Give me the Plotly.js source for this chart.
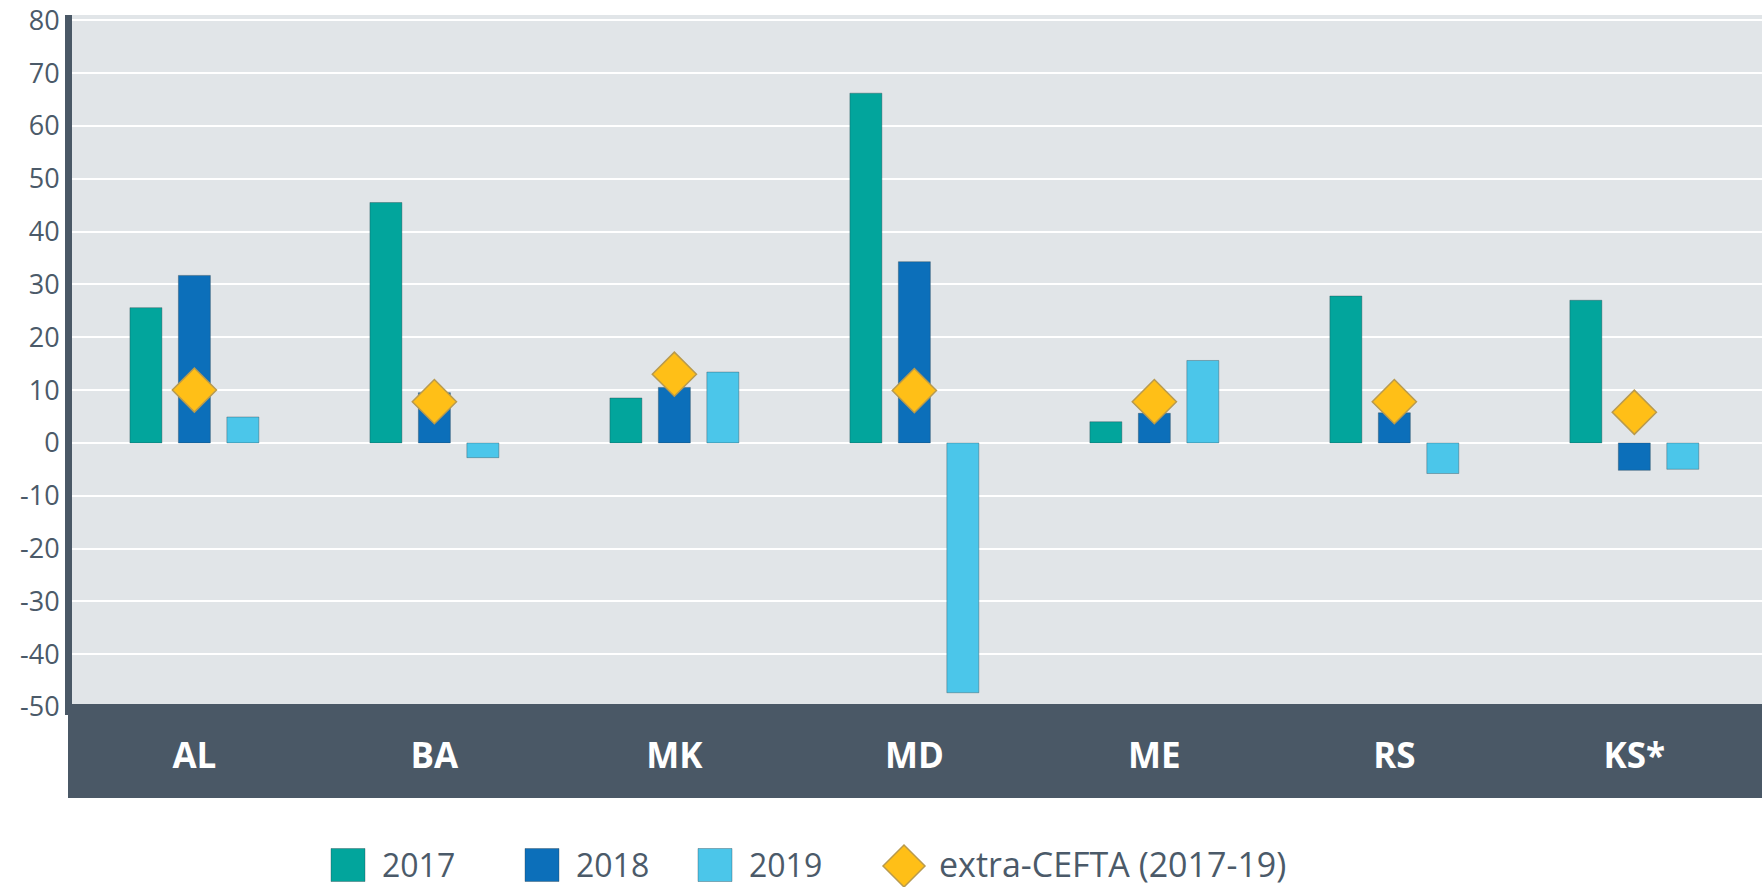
<!DOCTYPE html>
<html>
<head>
<meta charset="utf-8">
<script src="https://cdn.plot.ly/plotly-3.0.1.min.js"></script>
<style>
  html, body { margin: 0; padding: 0; background: #ffffff; }
  #chart { width: 1762px; height: 887px; }
</style>
</head>
<body>
<div id="chart"></div>
<script>
// ---- data ----
const categories = ["AL", "BA", "MK", "MD", "ME", "RS", "KS*"];
const seriesNames = ["2017", "2018", "2019"];
const values2017 = [25.6, 45.5, 8.5, 66.2, 4.0, 27.8, 27.0];
const values2018 = [31.7, 9.5, 10.5, 34.3, 5.6, 5.7, -5.2];
const values2019 = [4.9, -2.8, 13.4, -47.3, 15.6, -5.8, -5.0];
const extraName = "extra-CEFTA (2017-19)";
const extraCefta = [10.0, 7.8, 13.0, 9.9, 7.8, 7.8, 5.8];
const yTickVals = [-50, -40, -30, -20, -10, 0, 10, 20, 30, 40, 50, 60, 70, 80];

// ---- style ----
const colors = ["#02a59c", "#0c6fba", "#4bc6ea"];
const diamondColor = "#ffbf17";
const bandColor = "#4a5866";
const textColor = "#4b5a69";
const W = 1762, H = 887;
const M = { l: 72, r: 0, t: 15, b: 180 };
const plotW = W - M.l - M.r, plotH = H - M.t - M.b;
const px = x => (x - M.l) / plotW;
const py = y => (H - M.b - y) / plotH;

const barData = [values2017, values2018, values2019];
const traces = barData.map((vals, i) => ({
  type: "bar",
  name: seriesNames[i],
  x: categories,
  y: vals,
  marker: { color: colors[i], line: { color: "rgba(40,60,70,0.35)", width: 1 } },
  hoverinfo: "x+y+name"
}));
traces.push({
  type: "scatter",
  mode: "markers",
  name: extraName,
  x: categories,
  y: extraCefta,
  marker: { symbol: "diamond", size: 34, color: diamondColor, line: { color: "#b89a4e", width: 1.5 } }
});

// custom legend (glyphs + labels)
const shapes = [
  // dark category band
  { type: "rect", xref: "paper", yref: "paper", layer: "below",
    x0: px(68), x1: px(W), y0: py(704), y1: py(798),
    fillcolor: bandColor, line: { width: 0 } }
];
const annotations = [];
const legendSquares = [
  { x: 331, label: seriesNames[0], tx: 381 },
  { x: 525, label: seriesNames[1], tx: 575 },
  { x: 698, label: seriesNames[2], tx: 748 }
];
const legY = 864;
const legFont = { family: "Open Sans", size: 32, color: textColor };
legendSquares.forEach((s, i) => {
  shapes.push({ type: "rect", xref: "paper", yref: "paper", layer: "above",
    x0: px(s.x), x1: px(s.x + 34), y0: py(legY - 15.5), y1: py(legY + 17.5),
    fillcolor: colors[i], line: { color: "rgba(40,60,70,0.35)", width: 1 } });
  annotations.push({ xref: "paper", yref: "paper", x: px(s.tx), y: py(legY),
    xanchor: "left", yanchor: "middle", showarrow: false, text: s.label,
    borderpad: 0, font: legFont });
});
const dcx = 904, dcy = 866, dr = 21;
shapes.push({ type: "path", xref: "paper", yref: "paper", layer: "above",
  path: `M ${px(dcx - dr)},${py(dcy)} L ${px(dcx)},${py(dcy - dr)} L ${px(dcx + dr)},${py(dcy)} L ${px(dcx)},${py(dcy + dr)} Z`,
  fillcolor: diamondColor, line: { color: "#b89a4e", width: 1.5 } });
annotations.push({ xref: "paper", yref: "paper", x: px(938), y: py(legY),
  xanchor: "left", yanchor: "middle", showarrow: false, text: extraName,
  borderpad: 0, font: { family: "Open Sans", size: 34, color: textColor } });

const layout = {
  width: W, height: H,
  margin: M,
  paper_bgcolor: "#ffffff",
  plot_bgcolor: "#e1e5e8",
  showlegend: false,
  barmode: "group",
  bargap: 0.394,
  bargroupgap: 0.34,
  font: { family: "Open Sans", color: textColor },
  xaxis: {
    type: "category",
    range: [-0.51, 6.532],
    showgrid: false,
    zeroline: false,
    showline: true,
    linecolor: bandColor,
    linewidth: 8,
    ticks: "",
    ticklabelstandoff: 11,
    tickfont: { family: "Open Sans", size: 35, color: "#ffffff", weight: "bold" },
    fixedrange: true
  },
  yaxis: {
    range: [-50, 81],
    tickvals: yTickVals,
    ticktext: yTickVals.map(String),
    ticklabeloverflow: "allow",
    showgrid: true,
    gridcolor: "#ffffff",
    gridwidth: 2,
    zeroline: true,
    zerolinecolor: "#ffffff",
    zerolinewidth: 2,
    showline: true,
    linecolor: bandColor,
    linewidth: 7,
    ticks: "",
    ticklabelstandoff: 0,
    tickfont: { family: "Open Sans", size: 27, color: textColor },
    fixedrange: true
  },
  shapes: shapes,
  annotations: annotations
};

Plotly.newPlot("chart", traces, layout, { displayModeBar: false, staticPlot: true });
</script>
</body>
</html>
